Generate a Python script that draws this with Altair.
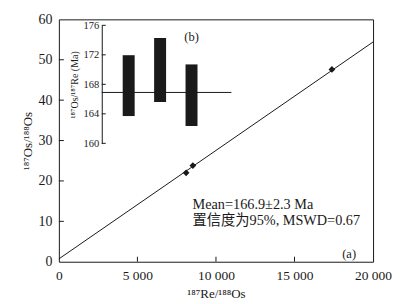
import altair as alt
import pandas as pd

# main isochron data
re_os = [8100, 8530, 17380]
os_os = [22.0, 23.8, 47.6]
iso_x = [0, 20000]
iso_y = [0.7, 54.4]
x_ticks = [0, 5000, 10000, 15000, 20000]
y_ticks = [0, 10, 20, 30, 40, 50, 60]
# inset (b) model ages
sample_idx = [1, 2, 3]
age_low = [163.7, 165.6, 162.35]
age_high = [171.95, 174.3, 170.7]
mean_age = [166.9]
inset_ticks = [160, 164, 168, 172, 176]

FONT = "Liberation Serif, DejaVu Serif, Noto Sans CJK SC"
W, H = 315, 243
INK = "#1a1a1a"

xs = alt.Scale(domain=[0, 20000], nice=False, zero=False)
ys = alt.Scale(domain=[0, 60], nice=False, zero=False)

x_axis = alt.Axis(title="¹⁸⁷Re/¹⁸⁸Os", values=x_ticks, ticks=False, tickSize=0, domain=False,
                  grid=False, labelFlush=False, labelOverlap=False,
                  labelExpr="replace(format(datum.value, ','), ',', ' ')",
                  labelFontSize=13.5, labelPadding=7, labelColor=INK, labelFont=FONT,
                  titleFontSize=13, titlePadding=5, titleColor=INK, titleFont=FONT,
                  titleFontWeight="normal")
y_axis = alt.Axis(title="¹⁸⁷Os/¹⁸⁸Os", values=y_ticks, ticks=False, tickSize=0, domain=False,
                  grid=False, labelFlush=False, labelOverlap=False,
                  labelFontSize=14, labelPadding=7, labelColor=INK, labelFont=FONT,
                  titleFontSize=13, titlePadding=3, titleColor=INK, titleFont=FONT,
                  titleFontWeight="normal")

pts = pd.DataFrame({"x": re_os, "y": os_os})
line_df = pd.DataFrame({"x": iso_x, "y": iso_y})

line = alt.Chart(line_df).mark_line(color=INK, strokeWidth=1).encode(
    x=alt.X("x:Q", scale=xs, axis=x_axis), y=alt.Y("y:Q", scale=ys, axis=y_axis))
points = alt.Chart(pts).mark_point(shape="diamond", filled=True, size=45, color=INK, opacity=1).encode(
    x=alt.X("x:Q", scale=xs, axis=x_axis), y=alt.Y("y:Q", scale=ys, axis=y_axis))
xt = alt.Chart(pd.DataFrame({"x": x_ticks[1:-1]})).mark_rule(color=INK).encode(
    x=alt.X("x:Q", scale=xs, axis=x_axis), y=alt.value(H), y2=alt.value(H - 5))
yt = alt.Chart(pd.DataFrame({"y": y_ticks[1:-1]})).mark_rule(color=INK).encode(
    y=alt.Y("y:Q", scale=ys, axis=y_axis), x=alt.value(0), x2=alt.value(5))

txt_df = pd.DataFrame({"t": ["Mean=166.9±2.3 Ma", "置信度为95%, MSWD=0.67", "(a)", "(b)"],
                       "px": [134, 134, 291, 133], "py": [186, 202, 235, 18]})
texts_l = alt.Chart(txt_df.iloc[:2]).mark_text(font=FONT, fontSize=14.3, color=INK, baseline="middle",
                                                align="left").encode(
    text="t:N", x=alt.value(134), y=alt.Y("py:Q", scale=None))
texts_c = alt.Chart(txt_df.iloc[2:]).mark_text(font=FONT, fontSize=12.5, color=INK, baseline="middle",
                                                align="center").encode(
    text="t:N", x=alt.X("px:Q", scale=None), y=alt.Y("py:Q", scale=None))

main = alt.layer(line, xt, yt, points)

# inset
ixs = alt.Scale(domain=[0, 4], range=[33.5, 169.5], nice=False, zero=False)
iys = alt.Scale(domain=[160, 176], range=[124.3, 6], nice=False, zero=False)
i_axis = alt.Axis(title="¹⁸⁷Os/¹⁸⁷Re (Ma)", orient="left", offset=-43, values=inset_ticks,
                  ticks=False, tickSize=0, domain=True, domainColor=INK, grid=False,
                  labelFlush=False, labelOverlap=False, labelFontSize=10.5, labelPadding=3,
                  labelColor=INK, labelFont=FONT, titleFontSize=10, titlePadding=4,
                  titleColor=INK, titleFont=FONT, titleFontWeight="normal")

bars_df = pd.DataFrame({"i": sample_idx, "lo": age_low, "hi": age_high})
bars = alt.Chart(bars_df).mark_bar(size=12, color=INK).encode(
    x=alt.X("i:Q", scale=ixs, axis=None), y=alt.Y("lo:Q", scale=iys, axis=i_axis), y2="hi:Q")
hline = alt.Chart(pd.DataFrame({"a": mean_age})).mark_rule(color=INK, strokeWidth=1).encode(
    y=alt.Y("a:Q", scale=iys, axis=i_axis), x=alt.value(43), x2=alt.value(173))
itk = alt.Chart(pd.DataFrame({"a": inset_ticks})).mark_rule(color=INK).encode(
    y=alt.Y("a:Q", scale=iys, axis=i_axis), x=alt.value(43), x2=alt.value(47))
inset = alt.layer(bars, hline, itk)

chart = alt.layer(main, inset, texts_l, texts_c).resolve_scale(x="independent", y="independent").properties(
    width=W, height=H,
    autosize=alt.AutoSizeParams(type="none"),
    padding={"left": 51, "top": 11, "right": 19, "bottom": 42},
    background="white",
).configure_view(stroke=INK, strokeWidth=1)

chart.save("out.html", embed_options={"renderer": "svg", "actions": False})
